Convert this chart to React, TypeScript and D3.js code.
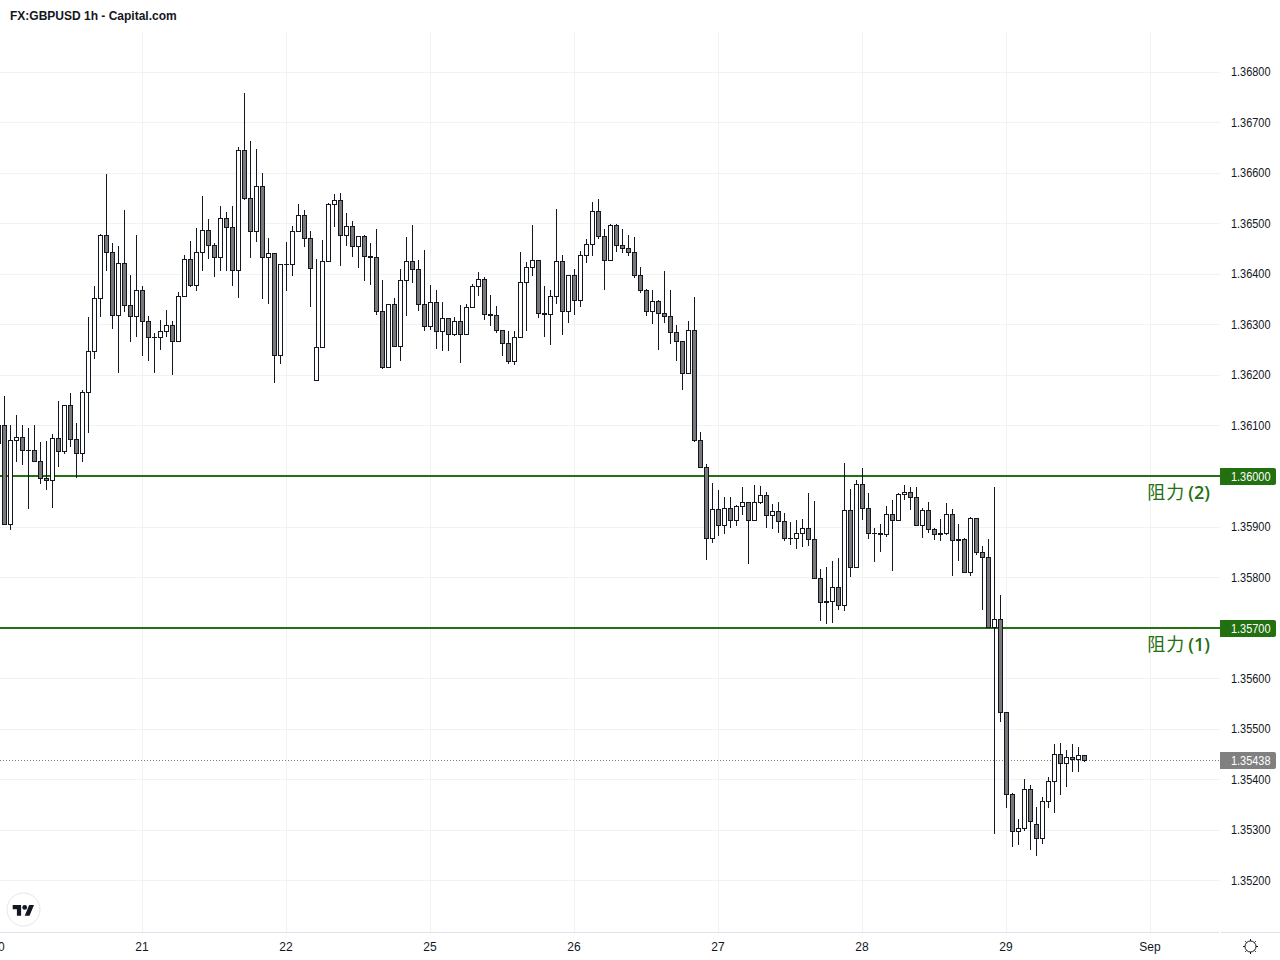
import { useEffect, useRef } from 'react';
import * as d3 from 'd3';

// Candle values are in 0.00001 steps away from 1.36000, one entry per hourly bar
const opens = [
  66, 101, -95, 72, 78, 52, 52, 30, -4, -8, 76, 50, 141, 74, 46, 167, 248, 352, 477, 443, 319, 422, 339, 317,
  368, 307, 275, 275, 287, 299, 267, 356, 430, 378, 443, 487, 457, 434, 511, 493, 408, 645, 550, 485, 574, 434, 441, 240,
  420, 420, 485, 517, 471, 190, 256, 426, 538, 546, 477, 495, 455, 475, 436, 434, 327, 216, 341, 258, 388, 426, 410, 341,
  297, 345, 287, 313, 281, 307, 281, 335, 376, 390, 321, 319, 289, 263, 228, 275, 384, 414, 428, 323, 321, 356, 426, 327,
  398, 349, 438, 459, 525, 475, 428, 497, 457, 451, 443, 398, 368, 327, 347, 323, 317, 285, 267, 204, 289, 72, 18, -122,
  -65, -97, -63, -87, -59, -51, -87, -51, -37, -77, -69, -89, -122, -122, -112, -102, -124, -201, -247, -247, -219, -255, -67, -180,
  -15, -63, -112, -112, -114, -75, -87, -35, -31, -41, -97, -67, -104, -112, -112, -75, -124, -124, -189, -83, -150, -160, -298, -282,
  -466, -629, -702, -696, -619, -688, -716, -642, -603, -549, -567, -555, -559, -551,
];

const highs = [
  102, 159, 100, 121, 100, 94, 100, 68, 70, 83, 149, 141, 165, 104, 171, 314, 375, 479, 598, 461, 455, 527, 398, 477,
  376, 317, 283, 309, 329, 307, 364, 438, 465, 491, 554, 509, 461, 534, 523, 534, 651, 758, 663, 647, 600, 471, 441, 420,
  463, 495, 538, 527, 485, 430, 467, 540, 558, 560, 521, 505, 475, 477, 461, 489, 388, 341, 352, 410, 473, 497, 428, 447,
  378, 368, 345, 313, 315, 339, 341, 380, 404, 394, 358, 337, 289, 287, 287, 443, 424, 497, 428, 376, 368, 529, 438, 398,
  410, 445, 469, 542, 548, 489, 499, 499, 489, 477, 473, 414, 370, 368, 349, 406, 368, 299, 267, 307, 354, 87, 24, -13,
  -27, -41, -41, -57, -21, -51, -17, -19, -31, -55, -51, -73, -91, -87, -85, -33, -49, -184, -180, -168, -162, 26, -25, -8,
  16, -33, -102, -95, -59, -47, -33, -17, -21, -21, -63, -51, -102, -85, -53, -65, -95, -122, -81, -83, -138, -124, -21, -235,
  -466, -627, -678, -599, -611, -654, -635, -595, -530, -528, -542, -530, -536, -551,
];

const lows = [
  66, -95, -104, 29, 23, -64, 30, -14, -25, -62, 19, 46, 59, -1, 29, 87, 233, 316, 407, 292, 205, 327, 267, 277,
  239, 229, 205, 251, 277, 201, 267, 356, 375, 368, 407, 431, 395, 407, 407, 377, 354, 548, 433, 464, 352, 342, 186, 223,
  368, 397, 485, 455, 336, 190, 256, 426, 494, 417, 457, 435, 413, 387, 379, 321, 214, 216, 258, 229, 318, 383, 329, 288,
  291, 253, 249, 249, 279, 225, 281, 335, 358, 311, 299, 285, 239, 224, 222, 275, 289, 397, 315, 277, 261, 343, 281, 305,
  321, 337, 424, 438, 471, 370, 428, 445, 443, 438, 394, 364, 319, 302, 252, 305, 263, 229, 172, 204, 70, 18, -164, -130,
  -116, -112, -100, -97, -75, -172, -87, -53, -101, -103, -111, -127, -135, -143, -139, -137, -201, -284, -290, -288, -263, -265, -197, -180,
  -85, -122, -168, -148, -118, -186, -87, -45, -65, -97, -120, -110, -124, -126, -114, -195, -166, -189, -195, -154, -263, -298, -707, -485,
  -655, -732, -728, -700, -738, -750, -726, -655, -665, -629, -614, -584, -584, -564,
];

const closes = [
  101, -95, 72, 78, 52, 52, 30, -4, -8, 76, 50, 141, 74, 46, 167, 248, 352, 477, 443, 319, 422, 339, 317, 368,
  307, 275, 275, 287, 299, 267, 356, 430, 378, 443, 487, 457, 434, 511, 493, 408, 645, 550, 485, 574, 434, 441, 240, 420,
  420, 485, 517, 471, 412, 256, 426, 538, 546, 477, 495, 455, 475, 436, 434, 327, 216, 341, 258, 388, 426, 410, 341, 297,
  345, 287, 313, 281, 307, 281, 335, 376, 390, 321, 319, 289, 263, 228, 275, 384, 414, 428, 323, 321, 356, 426, 327, 398,
  349, 438, 459, 525, 475, 428, 497, 457, 451, 443, 398, 368, 327, 347, 323, 317, 285, 267, 204, 289, 72, 18, -122, -65,
  -97, -63, -87, -59, -51, -87, -51, -37, -77, -69, -89, -122, -122, -112, -102, -124, -201, -249, -249, -219, -255, -67, -180, -15,
  -63, -112, -112, -114, -75, -87, -35, -31, -41, -97, -67, -104, -114, -114, -75, -126, -126, -189, -83, -150, -160, -298, -282, -466,
  -629, -702, -696, -619, -682, -716, -642, -603, -549, -567, -555, -559, -551, -562,
];

const priceTicks = [1.368, 1.367, 1.366, 1.365, 1.364, 1.363, 1.362, 1.361, 1.36, 1.359, 1.358, 1.357, 1.356, 1.355, 1.354, 1.353, 1.352];
const dayLabels = ['20', '21', '22', '25', '26', '27', '28', '29', 'Sep'];
const dayBars = [0, 24, 48, 72, 96, 120, 144, 168, 192];
const resistanceLevels = [1.36, 1.357];
const resistanceLabels = ['(2)', '(1)'];
const lastPrice = 1.35438;

const GREEN = '#22700f';
const FONT = '"Liberation Sans", Arial, sans-serif';
const PRICE_TEXT_WIDTH = 39.5;

export default function App() {
  const svgRef = useRef<SVGSVGElement>(null);

  useEffect(() => {
    if (!svgRef.current) return;
    const svg = d3.select(svgRef.current);
    svg.selectAll('*').remove();

    const plotTop = 32;
    const plotBottom = 932;
    const plotRight = 1220;

    // Scales
    const x = d3.scaleLinear().domain([0, 192]).range([-1.5, 1150.5]);
    const y = d3.scaleLinear().domain([1.36, 1.352]).range([476.5, 880.95]);
    const price = (v: number) => 1.36 + v / 100000;
    const snap = (v: number) => Math.floor(v) + 0.5;

    svg.append('rect').attr('width', 1280).attr('height', 960).attr('fill', '#fff');

    // Grid
    const grid = svg.append('g').attr('stroke', '#f2f2f3').attr('stroke-width', 1).attr('shape-rendering', 'crispEdges');
    grid.selectAll('.h').data(priceTicks).enter().append('line')
      .attr('x1', 0).attr('x2', plotRight)
      .attr('y1', d => snap(y(d))).attr('y2', d => snap(y(d)));
    grid.selectAll('.v').data(dayBars.slice(1)).enter().append('line')
      .attr('y1', plotTop).attr('y2', plotBottom)
      .attr('x1', d => x(d)).attr('x2', d => x(d));

    // Price axis
    const yAxis = svg.append('g')
      .attr('transform', `translate(${plotRight},-0.4)`)
      .call(d3.axisRight(y).tickValues(priceTicks).tickFormat(d3.format('.5f') as any).tickSize(0).tickPadding(11));
    yAxis.select('.domain').remove();
    yAxis.selectAll('text')
      .attr('font-family', FONT).attr('font-size', 12).attr('fill', '#131722')
      .attr('textLength', PRICE_TEXT_WIDTH).attr('lengthAdjust', 'spacingAndGlyphs');

    // Time axis
    const xAxis = svg.append('g')
      .attr('transform', `translate(-1,${plotBottom})`)
      .call(d3.axisBottom(x).tickValues(dayBars).tickFormat((_, i) => dayLabels[i]).tickSize(0).tickPadding(10));
    xAxis.select('.domain').remove();
    xAxis.selectAll('text').attr('font-family', FONT).attr('font-size', 12).attr('fill', '#131722');

    svg.append('line').attr('x1', 0).attr('x2', plotRight - 1).attr('y1', 932.5).attr('y2', 932.5).attr('stroke', '#e0e3eb');
    svg.append('line').attr('x1', plotRight + 1).attr('x2', 1280).attr('y1', 932.5).attr('y2', 932.5).attr('stroke', '#e0e3eb');

    // Last price line
    svg.append('line')
      .attr('x1', 0).attr('x2', plotRight)
      .attr('y1', snap(y(lastPrice))).attr('y2', snap(y(lastPrice)))
      .attr('stroke', '#808080').attr('stroke-dasharray', '1 2');

    // Resistance lines
    svg.selectAll('.level').data(resistanceLevels).enter().append('line')
      .attr('x1', 0).attr('x2', plotRight)
      .attr('y1', d => Math.floor(y(d))).attr('y2', d => Math.floor(y(d)))
      .attr('stroke', GREEN).attr('stroke-width', 2);

    // Candles
    const bars = d3.range(opens.length);
    const candles = svg.append('g').attr('shape-rendering', 'crispEdges');
    candles.selectAll('.wick').data(bars).enter().append('line')
      .attr('x1', d => x(d)).attr('x2', d => x(d))
      .attr('y1', d => Math.floor(y(price(highs[d]))))
      .attr('y2', d => Math.floor(y(price(lows[d]))) + 1)
      .attr('stroke', '#131722');
    candles.selectAll('.body').data(bars).enter().append('rect')
      .attr('x', d => x(d) - 2)
      .attr('width', 4)
      .attr('y', d => snap(y(price(Math.max(opens[d], closes[d])))))
      .attr('height', d => Math.max(0.01, snap(y(price(Math.min(opens[d], closes[d])))) - snap(y(price(Math.max(opens[d], closes[d]))))))
      .attr('fill', d => (closes[d] >= opens[d] ? '#ffffff' : '#787878'))
      .attr('stroke', '#131722');

    // Price tags on the axis
    const tag = (value: number, fill: string, textFill: string) => {
      const cy = snap(y(value));
      svg.append('path')
        .attr('d', `M${plotRight},${cy - 8.5}H1274a2,2 0 0 1 2,2V${cy + 6.5}a2,2 0 0 1 -2,2H${plotRight}Z`)
        .attr('fill', fill);
      svg.append('text')
        .attr('x', 1231).attr('y', cy + 4.5)
        .attr('font-family', FONT).attr('font-size', 12).attr('fill', textFill)
        .attr('textLength', PRICE_TEXT_WIDTH).attr('lengthAdjust', 'spacingAndGlyphs')
        .text(d3.format('.5f')(value));
    };
    resistanceLevels.forEach(level => tag(level, GREEN, '#ffffff'));
    tag(lastPrice, '#808080', '#ffffff');

    // Resistance labels
    resistanceLevels.forEach((level, i) => {
      const label = svg.append('text')
        .attr('x', 1210).attr('y', Math.floor(y(level)) + 23)
        .attr('text-anchor', 'end').attr('font-size', 18).attr('fill', GREEN);
      label.append('tspan').attr('font-family', '"Noto Sans CJK SC"').attr('letter-spacing', 1).text('阻力');
      label.append('tspan').attr('font-family', '"Open Sans"').attr('font-weight', 600).attr('dx', 3).text(resistanceLabels[i]);
    });

    // Title
    svg.append('text')
      .attr('x', 10).attr('y', 20)
      .attr('font-family', FONT).attr('font-size', 12).attr('font-weight', 700).attr('fill', '#131722')
      .text('FX:GBPUSD 1h - Capital.com');

    // Logo
    svg.append('circle').attr('cx', 23.5).attr('cy', 909.5).attr('r', 16.5).attr('fill', '#fff').attr('stroke', '#e6e6e6').attr('stroke-width', 1);
    const logo = svg.append('g').attr('transform', 'translate(12.7,902.6) scale(0.6)').attr('fill', '#131722');
    logo.append('path').attr('d', 'M14 22H7V11H0V4h14v18zM28 22h-8l7.5-18h8L28 22z');
    logo.append('circle').attr('cx', 20).attr('cy', 8).attr('r', 4);

    // Settings icon
    const gear = svg.append('g').attr('transform', 'translate(1250.5,946.5)').attr('stroke', '#131722').attr('fill', 'none');
    gear.append('circle').attr('r', 5.5);
    gear.selectAll('line').data(d3.range(8)).enter().append('line')
      .attr('x1', d => 5.5 * Math.cos(d * Math.PI / 4)).attr('y1', d => 5.5 * Math.sin(d * Math.PI / 4))
      .attr('x2', d => 7.5 * Math.cos(d * Math.PI / 4)).attr('y2', d => 7.5 * Math.sin(d * Math.PI / 4));
  }, []);

  return (
    <>
      <style>{'body{margin:0}'}</style>
      <svg ref={svgRef} width={1280} height={960} style={{ display: 'block' }} />
    </>
  );
}
